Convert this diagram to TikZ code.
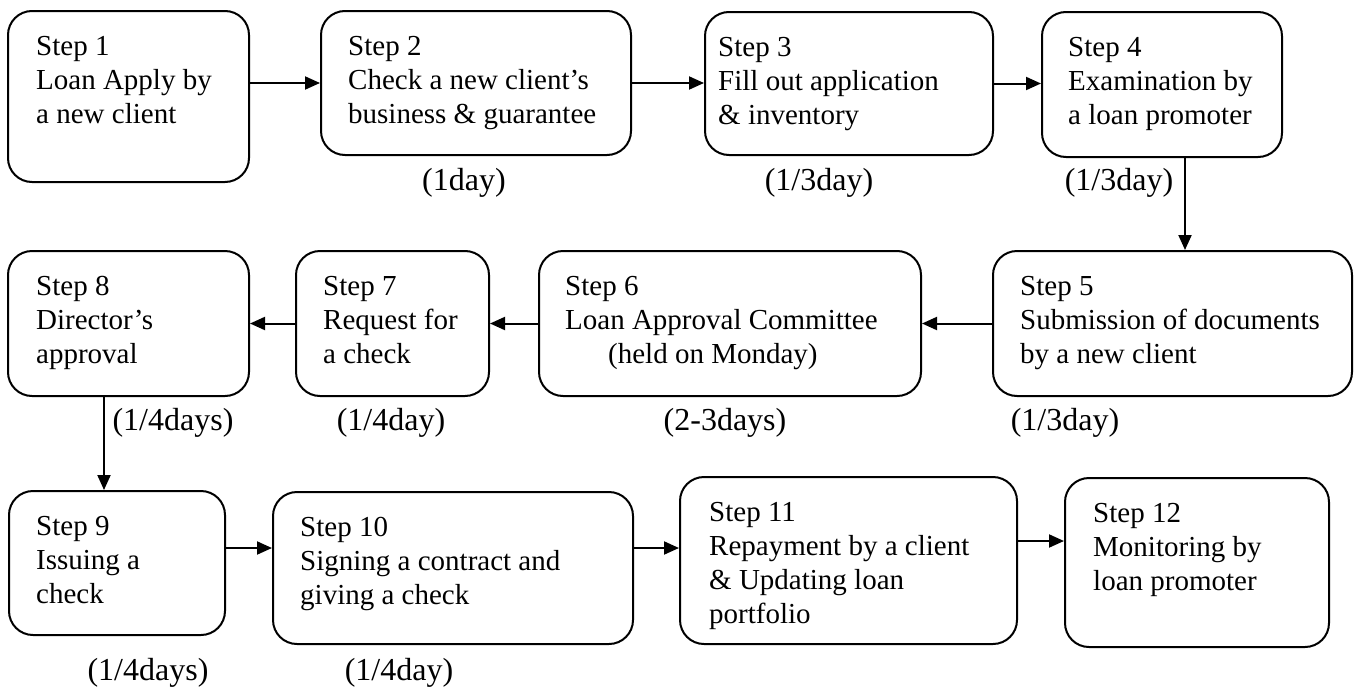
\documentclass[tikz,border=0pt]{standalone}
\usepackage{fontspec}
\setmainfont{Liberation Serif}
\usetikzlibrary{arrows.meta,calc}
\begin{document}
\begin{tikzpicture}[x=1pt,y=-1pt,
  box/.style={draw, line width=2pt, rounded corners=24pt, inner sep=0pt},
  txt/.style={anchor=north west, inner sep=0pt, align=left, font=\fontsize{29}{34}\selectfont},
  lbl/.style={inner sep=0pt, font=\fontsize{32}{36}\selectfont},
  arr/.style={line width=2pt, -{Triangle[length=15pt,width=13pt]}}]
\useasboundingbox (0,0) rectangle (1359,688);
% row 1
\node[box, minimum width=241pt, minimum height=171pt] (b1) at (128.5,96.5) {};
\node[box, minimum width=310pt, minimum height=144pt] (b2) at (476,83) {};
\node[box, minimum width=288pt, minimum height=143pt] (b3) at (849,83.5) {};
\node[box, minimum width=240pt, minimum height=145pt] (b4) at (1162,84.5) {};
% row 2
\node[box, minimum width=359pt, minimum height=145pt] (b5) at (1172.5,323.5) {};
\node[box, minimum width=382pt, minimum height=145pt] (b6) at (730,323.5) {};
\node[box, minimum width=193pt, minimum height=145pt] (b7) at (392.5,323.5) {};
\node[box, minimum width=241pt, minimum height=145pt] (b8) at (128.5,323.5) {};
% row 3
\node[box, minimum width=216pt, minimum height=144pt] (b9) at (117,563) {};
\node[box, minimum width=360pt, minimum height=152pt] (b10) at (453,568) {};
\node[box, minimum width=337pt, minimum height=167pt] (b11) at (848.5,560.5) {};
\node[box, minimum width=264pt, minimum height=169pt] (b12) at (1197,562.5) {};
% texts
\node[txt] (t1) at (36,36.5) {Step 1\\Loan Apply by\\a new client};
\node[txt] (t2) at (348,36.5) {Step 2\\Check a new client’s\\business \& guarantee};
\node[txt] (t3) at (718,37.5) {Step 3\\Fill out application\\\& inventory};
\node[txt] (t4) at (1068,37.5) {Step 4\\Examination by\\a loan promoter};
\node[txt] (t5) at (1020,276.5) {Step 5\\Submission of documents\\by a new client};
\node[txt] (t6) at (565,276.5) {Step 6\\Loan Approval Committee\\\hspace*{43pt}(held on Monday)};
\node[txt] (t7) at (323,276.5) {Step 7\\Request for\\a check};
\node[txt] (t8) at (36,276.5) {Step 8\\Director’s\\approval};
\node[txt] (t9) at (36,516.5) {Step 9\\Issuing a\\check};
\node[txt] (t10) at (300,517.5) {Step 10\\Signing a contract and\\giving a check};
\node[txt] (t11) at (709,502.5) {Step 11\\Repayment by a client\\\& Updating loan\\portfolio};
\node[txt] (t12) at (1093,503.5) {Step 12\\Monitoring by\\loan promoter};
% labels
\node[lbl] (l1) at (464,183) {(1day)};
\node[lbl] (l2) at (819,183) {(1/3day)};
\node[lbl] (l3) at (1119,183) {(1/3day)};
\node[lbl] (l4) at (1065,423) {(1/3day)};
\node[lbl] (l5) at (725,423) {(2-3days)};
\node[lbl] (l6) at (391,423) {(1/4day)};
\node[lbl] (l7) at (173,423) {(1/4days)};
\node[lbl] (l8) at (148,673) {(1/4days)};
\node[lbl] (l9) at (399,673) {(1/4day)};
% arrows
\draw[arr] (b1.east |- b2.west) -- (b2.west);
\draw[arr] (b2.east) -- (b2.east -| b3.west);
\draw[arr] (b3.east) -- (b3.east -| b4.west);
\draw[arr] ([xshift=23pt]b4.south) -- ([xshift=23pt]b4.south |- b5.north);
\draw[arr] (b5.west) -- (b6.east);
\draw[arr] (b6.west) -- (b7.east);
\draw[arr] (b7.west) -- (b8.east);
\draw[arr] ([xshift=-24.5pt]b8.south) -- ([xshift=-24.5pt]b8.south |- b9.north);
\draw[arr] ([yshift=15pt]b9.east) -- ([yshift=15pt]b9.east -| b10.west);
\draw[arr] ([yshift=20pt]b10.east) -- ([yshift=20pt]b10.east -| b11.west);
\draw[arr] ([yshift=19.5pt]b11.east) -- ([yshift=19.5pt]b11.east -| b12.west);
\end{tikzpicture}
\end{document}
